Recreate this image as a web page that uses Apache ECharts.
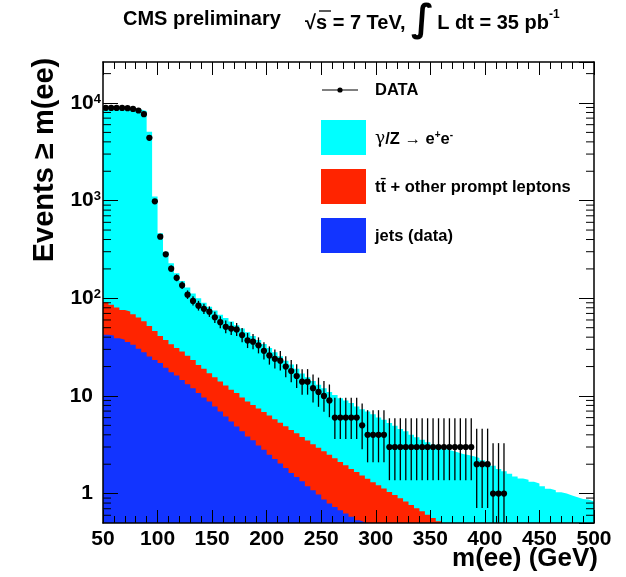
<!DOCTYPE html>
<html><head><meta charset="utf-8">
<script src="https://cdn.jsdelivr.net/npm/echarts@6/dist/echarts.min.js"></script>
<style>html,body{margin:0;padding:0;background:#fff}#c{width:626px;height:577px}</style>
</head><body><div id="c"></div><script>
// binning of the cumulative histograms (GeV)
const binLow = 50, binWidth = 5;
// stack heights (events >= m(ee)), one value per 5 GeV bin
const dyStack = [8580,8580,8580,8580,8580,8580,8580,8300,5070,1100,
 463,300,228,181,150,129,112,100,90,82,
 75,68,63,58,53,49,45,41,37.5,34,
 31,28,25.5,23,21,19,17,15.5,14.2,13,
 12,11,10.2,9.5,9.0,8.45,7.8,7.3,6.95,6.5,
 6.0,5.7,5.3,4.96,4.6,4.34,4.0,3.77,3.57,3.35,
 3.17,3.0,2.85,2.75,2.65,2.55,2.48,2.42,2.32,2.19,
 2.06,1.93,1.79,1.69,1.60,1.50,1.43,1.39,1.32,1.27,
 1.19,1.12,1.08,1.03,1.0,0.955,0.92,0.88,0.87,0.83];
const promptStack = [91.2,85.7,80.3,76.1,73.1,68.8,63.5,58.3,52.0,46.2,
 41.2,37.5,33.9,30.9,28.5,25.8,23.4,20.8,19.0,17.1,
 15.5,14.1,12.8,11.6,10.7,9.66,8.79,8.07,7.43,6.83,
 6.29,5.78,5.31,4.89,4.49,4.14,3.80,3.50,3.21,2.95,
 2.72,2.50,2.30,2.11,1.95,1.79,1.66,1.53,1.42,1.31,
 1.22,1.13,1.04,0.965,0.895,0.829,0.766,0.709,0.658,0.608,
 0.563,0.521,0.48];
const jetsStack = [42.3,41.6,39.1,37.6,35.6,33.4,30.4,28.1,25.3,23.4,
 21.7,19.5,17.5,16.2,14.6,13.2,12.0,10.7,9.66,8.79,
 7.81,6.94,6.17,5.48,4.88,4.34,3.85,3.51,3.10,2.82,
 2.50,2.26,2.03,1.83,1.63,1.48,1.34,1.19,1.08,0.977,
 0.868,0.791,0.731,0.675,0.625,0.578,0.533,0.509,0.47];
// observed cumulative counts, bins starting at 50 GeV
const dataN = [8900,8900,8900,8900,8850,8700,8380,7680,4400,984,
 428,282,201,162,136,109,94,84,78,73,
 64,57,51,49,48,42,37,36,33,29,
 26,24,23,20,18,16,14,14,12,11,
 10,9,6,6,6,6,6,5,4,4,
 4,4,3,3,3,3,3,3,3,3,
 3,3,3,3,3,3,3,3,2,2,
 2,1,1,1];
const legendLabels = ['DATA','γ/Z → e⁺e⁻','tt̄ + other prompt leptons','jets (data)'];
const colors = {dy:'#00FFFF', prompt:'#FF2400', jets:'#1234FF'};

const xMin = 50, xMax = 500, yMin = 0.5, yMax = 26300;
const FONT = 'Liberation Sans, Arial, Helvetica, sans-serif';

function stepData(vals){
  const d = vals.map((v,i)=>[binLow+i*binWidth, v]);
  d.push([binLow+vals.length*binWidth, vals[vals.length-1]]);
  return d;
}
function poisLo(n){ if(n<=0) return 0; return n*Math.pow(1-1/(9*n)-1/(3*Math.sqrt(n)),3); }
function poisHi(n){ const m=n+1; return m*Math.pow(1-1/(9*m)+1/(3*Math.sqrt(m)),3); }

const minorVals = [];
for (let e=-1; e<=4; e++) for (let m=2; m<=9; m++){ const v=m*Math.pow(10,e); if(v>yMin && v<yMax) minorVals.push(v); }

function histSeries(name, vals, color, z){
  return {name, type:'line', data:stepData(vals), step:'end', symbol:'none', silent:true,
    lineStyle:{width:0, opacity:0}, areaStyle:{color, opacity:1, origin:'start'}, z, clip:true, animation:false};
}

const labelStyle = {fontFamily:FONT, fontWeight:'bold', fontSize:21, color:'#000'};
const axisCommon = {
  axisLine:{show:true, onZero:false, lineStyle:{color:'#000', width:1.5}},
  splitLine:{show:false}, z:10
};

const option = {
  animation:false,
  backgroundColor:'#fff',
  grid:{left:103, right:32, top:62, bottom:54, containLabel:false},
  xAxis:[
    Object.assign({type:'value', min:xMin, max:xMax, interval:50, position:'bottom',
      axisTick:{show:true, inside:true, length:13, lineStyle:{color:'#000', width:1}},
      minorTick:{show:true, splitNumber:5, length:7, lineStyle:{color:'#000', width:1}},
      axisLabel:Object.assign({margin:6}, labelStyle)}, axisCommon),
    Object.assign({type:'value', min:xMin, max:xMax, interval:50, position:'top',
      axisTick:{show:true, inside:true, length:13, lineStyle:{color:'#000', width:1}},
      minorTick:{show:true, splitNumber:5, length:7, lineStyle:{color:'#000', width:1}},
      axisLabel:{show:false}}, axisCommon)
  ],
  yAxis:[
    Object.assign({type:'log', logBase:10, min:yMin, max:yMax, position:'left',
      axisTick:{show:true, inside:true, length:15, lineStyle:{color:'#000', width:1}},
      axisLabel:Object.assign({margin:2, showMinLabel:false, showMaxLabel:false,
        formatter:function(v){ const e=Math.round(Math.log10(v));
          if(e===0) return '{n|1}{sp|}'; if(e===1) return '{n|10}{sp|}';
          return '{n|10}{s|'+e+'}'; },
        rich:{n:{fontFamily:FONT, fontWeight:'bold', fontSize:21, color:'#000'},
              s:{fontFamily:FONT, fontWeight:'bold', fontSize:13, color:'#000', verticalAlign:'top'},
              sp:{width:8}}}, labelStyle)}, axisCommon),
    Object.assign({type:'log', logBase:10, min:yMin, max:yMax, position:'right',
      axisTick:{show:true, inside:true, length:15, lineStyle:{color:'#000', width:1}},
      axisLabel:{show:false}}, axisCommon)
  ],
  series:[
    histSeries('dy', dyStack, colors.dy, 1),
    histSeries('prompt', promptStack, colors.prompt, 2),
    histSeries('jets', jetsStack, colors.jets, 3),
    {type:'custom', name:'minorTicks', silent:true, z:11, clip:false,
      data:minorVals.map(v=>[xMin, v]),
      renderItem:function(p, api){
        const v = api.value(1);
        const a = api.coord([xMin, v]), b = api.coord([xMax, v]);
        return {type:'group', children:[
          {type:'line', shape:{x1:a[0], y1:a[1], x2:a[0]+8, y2:a[1]}, style:{stroke:'#000', lineWidth:1}},
          {type:'line', shape:{x1:b[0]-8, y1:b[1], x2:b[0], y2:b[1]}, style:{stroke:'#000', lineWidth:1}}
        ]};
      }},
    {type:'custom', name:'DATA', silent:true, z:12, clip:true,
      data:dataN.map((n,i)=>[binLow+(i+0.5)*binWidth, n]),
      renderItem:function(p, api){
        const x = api.value(0), n = api.value(1);
        const c = api.coord([x, n]);
        const lo = api.coord([x, Math.max(poisLo(n), yMin)]);
        const hi = api.coord([x, Math.min(poisHi(n), yMax)]);
        const l = api.coord([x-binWidth/2, n]), r = api.coord([x+binWidth/2, n]);
        return {type:'group', children:[
          {type:'line', shape:{x1:c[0], y1:lo[1], x2:c[0], y2:hi[1]}, style:{stroke:'#000', lineWidth:1.3}},
          {type:'line', shape:{x1:l[0], y1:c[1], x2:r[0], y2:c[1]}, style:{stroke:'#000', lineWidth:1.3}},
          {type:'circle', shape:{cx:c[0], cy:c[1], r:3.1}, style:{fill:'#000'}}
        ]};
      }}
  ],
  graphic:[
    {type:'text', left:123, top:9, style:{text:'CMS preliminary', font:'bold 20px '+FONT, fill:'#000'}},
    {type:'text', left:305, top:2, style:{
      text:'{a|√s = 7 TeV, }{i|∫}{c|L dt = 35 pb}{s|-1}',
      rich:{a:{font:'bold 20px '+FONT, fill:'#000', verticalAlign:'bottom', padding:[0,0,7,0]},
            c:{font:'bold 20px '+FONT, fill:'#000', verticalAlign:'bottom', padding:[0,0,7,3]},
            i:{font:'bold 38px DejaVu Sans', fill:'#000'},
            s:{font:'bold 12px '+FONT, fill:'#000', verticalAlign:'top', padding:[7,0,0,0]}}}},
    {type:'line', shape:{x1:319, y1:11, x2:331, y2:11}, style:{stroke:'#000', lineWidth:1.3}},
    {type:'text', x:45, y:160, rotation:Math.PI/2, style:{text:'Events ≥ m(ee)', font:'bold 29px '+FONT, fill:'#000', align:'center', verticalAlign:'middle'}},
    {type:'text', x:598, y:559, style:{text:'m(ee) (GeV)', font:'bold 26px '+FONT, fill:'#000', align:'right', verticalAlign:'middle'}},
    // legend
    {type:'line', shape:{x1:322, y1:90, x2:358, y2:90}, style:{stroke:'#000', lineWidth:1}},
    {type:'circle', shape:{cx:340, cy:90, r:2.6}, style:{fill:'#000'}},
    {type:'text', x:375, y:90, style:{text:legendLabels[0], font:'bold 16.5px '+FONT, fill:'#000', verticalAlign:'middle'}},
    {type:'rect', shape:{x:321, y:120, width:45, height:35}, style:{fill:colors.dy}},
    {type:'text', x:375, y:139, style:{text:'{g|γ}{b|/Z → e}{s|+}{b|e}{s|-}',
      rich:{g:{font:'17px DejaVu Serif', fill:'#000'}, b:{font:'bold 16.5px '+FONT, fill:'#000'},
            s:{font:'bold 10px '+FONT, fill:'#000', verticalAlign:'top'}}, verticalAlign:'middle'}},
    {type:'rect', shape:{x:321, y:169, width:45, height:35}, style:{fill:colors.prompt}},
    {type:'text', x:375, y:187, style:{text:legendLabels[2], font:'bold 16.5px '+FONT, fill:'#000', verticalAlign:'middle'}},
    {type:'rect', shape:{x:321, y:218, width:45, height:35}, style:{fill:colors.jets}},
    {type:'text', x:375, y:236, style:{text:legendLabels[3], font:'bold 16.5px '+FONT, fill:'#000', verticalAlign:'middle'}}
  ]
};
const chart = echarts.init(document.getElementById('c'), null, {renderer:'canvas'});
chart.setOption(option);
</script></body></html>
